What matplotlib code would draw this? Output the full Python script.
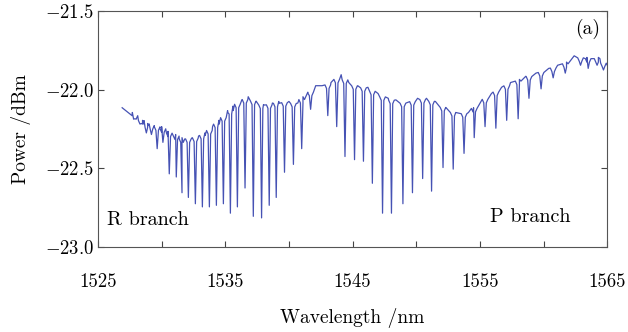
import matplotlib

matplotlib.use("Agg")
import matplotlib.pyplot as plt  # noqa: E402
import numpy as np  # noqa: E402
from matplotlib.ticker import FixedLocator, FixedFormatter  # noqa: E402

# baseline (upper envelope) of the transmission spectrum
base_wl = [1526.9, 1527.7, 1528.5, 1528.9, 1530.0, 1530.5, 1531.1, 1531.6, 1532.4, 1532.9,
           1533.4, 1534.0, 1534.5, 1535.2, 1535.6, 1536.3, 1536.8, 1537.4, 1538.0, 1538.7,
           1539.2, 1540.0, 1540.7, 1541.1, 1541.5, 1542.1, 1542.6, 1543.3, 1544.1, 1544.7,
           1545.4, 1546.2, 1547.0, 1547.8, 1548.4, 1549.2, 1550.1, 1550.8, 1551.5, 1552.3,
           1553.1, 1554.1, 1554.5, 1555.2, 1555.9, 1556.7, 1557.4, 1558.1, 1558.6, 1559.4,
           1560.4, 1561.1, 1561.8, 1562.4, 1563.4, 1564.3, 1565.0]
base_pw = [-22.115, -22.145, -22.195, -22.215, -22.235, -22.265, -22.285, -22.305, -22.305,
           -22.295, -22.275, -22.235, -22.195, -22.145, -22.105, -22.065, -22.045, -22.075,
           -22.095, -22.085, -22.075, -22.075, -22.085, -22.045, -22.025, -21.975, -21.975,
           -21.955, -21.905, -21.955, -21.975, -21.985, -22.025, -22.055, -22.065, -22.085,
           -22.055, -22.055, -22.075, -22.115, -22.145, -22.145, -22.115, -22.065, -22.025,
           -21.985, -21.955, -21.935, -21.915, -21.895, -21.865, -21.845, -21.825, -21.785,
           -21.795, -21.795, -21.845]

# absorption dips: centre wavelength and minimum power
dip_wl = [1527.9, 1528.4, 1528.8, 1529.2, 1529.65, 1530.1, 1530.6, 1531.15, 1531.6, 1532.1,
          1532.65, 1533.2, 1533.75, 1534.3, 1534.85, 1535.4, 1535.95, 1536.55, 1537.2, 1537.85,
          1538.45, 1539.0, 1539.65, 1540.35, 1541.0, 1541.7, 1543.05, 1543.75, 1544.4, 1545.15,
          1545.85, 1546.55, 1547.35, 1548.05, 1548.95, 1549.7, 1550.5, 1551.2, 1552.1, 1552.9,
          1553.75, 1554.55, 1555.4, 1556.25, 1557.1, 1558.0, 1558.85, 1559.8, 1560.75, 1561.7,
          1562.9, 1563.5, 1564.2, 1564.7]
dip_pw = [-22.185, -22.215, -22.275, -22.285, -22.375, -22.335, -22.535, -22.555, -22.655,
          -22.685, -22.725, -22.745, -22.745, -22.735, -22.725, -22.785, -22.745, -22.625,
          -22.805, -22.815, -22.735, -22.685, -22.525, -22.475, -22.375, -22.125, -22.165,
          -22.235, -22.425, -22.445, -22.455, -22.595, -22.785, -22.785, -22.725, -22.655,
          -22.565, -22.645, -22.495, -22.505, -22.405, -22.305, -22.235, -22.245, -22.195,
          -22.185, -22.055, -21.995, -21.925, -21.895, -21.845, -21.865, -21.845, -21.875]

x_major = [1525, 1535, 1545, 1555, 1565]
x_minor = [1530, 1540, 1550, 1560]
y_ticks = [-21.5, -22.0, -22.5, -23.0]

plt.rcParams["font.family"] = "serif"
plt.rcParams["font.serif"] = ["cmr10", "DejaVu Serif"]
plt.rcParams["mathtext.fontset"] = "cm"

# build the trace: baseline points plus a narrow dip with rounded shoulders
points = list(zip(base_wl, base_pw))
for c, d in zip(dip_wl, dip_pw):
    b = float(np.interp(c, base_wl, base_pw))
    points += [(c - 0.22, b - 0.008), (c - 0.1, b - 0.03), (c, d),
               (c + 0.1, b - 0.03), (c + 0.22, b - 0.008)]
points.sort()
wl = np.array([p[0] for p in points])
pw = np.array([p[1] for p in points])

fig = plt.figure(figsize=(6.28, 3.32), dpi=100)
ax = fig.add_axes([0.156, 0.256, 0.811, 0.711])
ax.plot(wl, pw, color="#4652b4", lw=0.9)

ax.set_xlim(1525, 1565)
ax.set_ylim(-23.0, -21.5)
ax.xaxis.set_major_locator(FixedLocator(x_major))
ax.xaxis.set_major_formatter(FixedFormatter([str(v) for v in x_major]))
ax.xaxis.set_minor_locator(FixedLocator(x_minor))
ax.yaxis.set_major_locator(FixedLocator(y_ticks))
ax.yaxis.set_major_formatter(FixedFormatter([f"${v:.1f}$" for v in y_ticks]))
ax.tick_params(which="both", direction="in", top=True, right=True, length=4,
               width=0.8, color="#444444", labelsize=13.5)
ax.tick_params(axis="x", which="both", pad=19)
ax.tick_params(axis="y", pad=3)
for spine in ax.spines.values():
    spine.set_color("#555555")
    spine.set_linewidth(0.8)

ax.set_xlabel("Wavelength /nm", fontsize=14, labelpad=12)
ax.set_ylabel("Power /dBm", fontsize=14, labelpad=10)
ax.text(0.985, 0.925, "(a)", transform=ax.transAxes, ha="right", va="center", fontsize=14)
ax.text(1525.7, -22.83, "R branch", ha="left", va="center", fontsize=14.5)
ax.text(1555.8, -22.81, "P branch", ha="left", va="center", fontsize=14.5)

fig.savefig("out.png", dpi=100)
plt.close(fig)
